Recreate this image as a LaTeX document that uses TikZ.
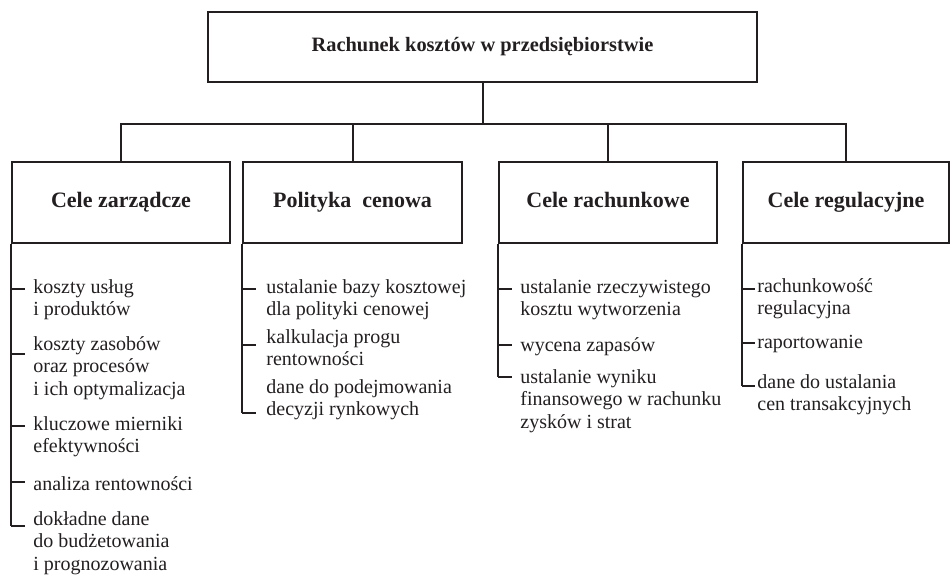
\documentclass[tikz,border=0pt]{standalone}
\usepackage{fontspec}
\setmainfont{Liberation Serif}
\usetikzlibrary{positioning}
\definecolor{ink}{HTML}{231F20}
\tikzset{
  line/.style={draw=ink, line width=1pt},
  headbox/.style={line, text=ink, font=\fontsize{10.2}{12}\selectfont\bfseries,
    minimum height=35pt, inner sep=0pt, text height=0.7em, text depth=0.2em},
  goalbox/.style={line, text=ink, font=\fontsize{11}{13}\selectfont\bfseries,
    minimum height=40.5pt, inner sep=0pt, text height=0.7em, text depth=0.2em},
  listtext/.style={anchor=north west, yshift=5.4pt, align=left, inner sep=0pt,
    text=ink, font=\fontsize{10}{11.2}\selectfont, execute at begin node=\strut}
}
\begin{document}
\begin{tikzpicture}[x=0.5pt, y=-0.5pt]
\useasboundingbox (0,0) rectangle (952,576);
% boxes
\node[headbox, minimum width=274.5pt] (top) at (482.5,47) {Rachunek kosztów w przedsiębiorstwie};
\node[goalbox, minimum width=109pt] (mgmt) at (121,202.5) {Cele zarządcze};
\node[goalbox, minimum width=109.5pt] (price) at (352.5,202.5) {Polityka\ \ cenowa};
\node[goalbox, minimum width=109pt] (acct) at (608,202.5) {Cele rachunkowe};
\node[goalbox, minimum width=103pt] (reg) at (846,202.5) {Cele regulacyjne};
% tree
\coordinate (bar) at (0,124);
\draw[line] (top.south) -- (top.south |- bar);
\draw[line] (mgmt.north) |- (top.south |- bar) -| (reg.north);
\draw[line] (price.north) -- (price.north |- bar);
\draw[line] (acct.north) -- (acct.north |- bar);
% Cele zarzadcze
\foreach \n/\ty/\y/\txt in {1/289/290/{koszty usług\\i produktów},
    2/354/347/{koszty zasobów\\oraz procesów\\i ich optymalizacja},
    3/426/427/{kluczowe mierniki\\efektywności},
    4/482/485/{analiza rentowności},
    5/526/522/{dokładne dane\\do budżetowania\\i prognozowania}}{
  \coordinate (m\n) at (mgmt.south west |- 0,\ty);
  \draw[line] (m\n) -- ++(14,0);
  \node[listtext] (mt\n) at (33,\y) {\txt};
}
\draw[line] (mgmt.south west) -- (m5);
% Polityka cenowa
\foreach \n/\ty/\y/\txt in {1/289/290/{ustalanie bazy kosztowej\\dla polityki cenowej},
    2/345/340/{kalkulacja progu\\rentowności},
    3/413/390/{dane do podejmowania\\decyzji rynkowych}}{
  \coordinate (p\n) at (price.south west |- 0,\ty);
  \draw[line] (p\n) -- ++(14,0);
  \node[listtext] (pt\n) at (266,\y) {\txt};
}
\draw[line] (price.south west) -- (p3);
% Cele rachunkowe
\foreach \n/\ty/\y/\txt in {1/289/290/{ustalanie rzeczywistego\\kosztu wytworzenia},
    2/345/346/{wycena zapasów},
    3/377/380/{ustalanie wyniku\\finansowego w rachunku\\zysków i strat}}{
  \coordinate (a\n) at (acct.south west |- 0,\ty);
  \draw[line] (a\n) -- ++(14,0);
  \node[listtext] (at\n) at (520,\y) {\txt};
}
\draw[line] (acct.south west) -- (a3);
% Cele regulacyjne
\foreach \n/\ty/\y/\txt in {1/289/289/{rachunkowość\\regulacyjna},
    2/343/343/{raportowanie},
    3/386/385/{dane do ustalania\\cen transakcyjnych}}{
  \coordinate (r\n) at (reg.south west |- 0,\ty);
  \draw[line] (r\n) -- ++(13,0);
  \node[listtext] (rt\n) at (757,\y) {\txt};
}
\draw[line] (reg.south west) -- (r3);
\end{tikzpicture}
\end{document}
